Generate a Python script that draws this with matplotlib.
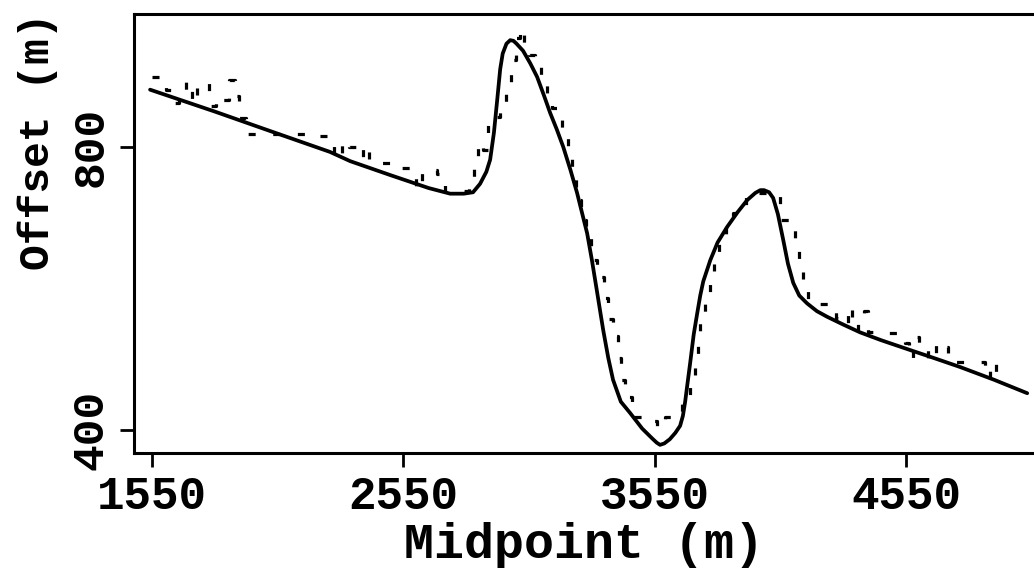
import matplotlib
matplotlib.use("Agg")
import matplotlib.pyplot as plt

# smooth model curve (midpoint m, offset m)
model_x = [1542, 1800, 2000, 2258, 2338, 2500, 2650, 2736, 2790, 2827, 2855, 2880,
           2895, 2910, 2923, 2935, 2945, 2960, 2975, 2988, 3000, 3026, 3055, 3082,
           3110, 3134, 3160, 3186, 3215, 3241, 3262, 3281, 3300, 3321, 3345, 3365,
           3384, 3415, 3452, 3500, 3540, 3558, 3571, 3588, 3610, 3632, 3651, 3662,
           3671, 3680, 3691, 3705, 3719, 3731, 3743, 3771, 3800, 3838, 3880, 3918,
           3950, 3970, 3985, 4005, 4021, 4040, 4061, 4080, 4101, 4125, 4156, 4195,
           4236, 4300, 4367, 4450, 4566, 4650, 4765, 4900, 5032]
model_y = [881, 850, 825, 793, 780, 760, 742, 734, 734, 736, 748, 765,
           782, 820, 866, 910, 932, 946, 951, 950, 946, 936, 918, 899,
           872, 848, 825, 800, 767, 735, 705, 678, 640, 594, 541, 502,
           471, 440, 424, 402, 388, 382, 379, 381, 387, 396, 406, 420,
           440, 465, 495, 535, 565, 590, 610, 640, 665, 687, 708, 725,
           735, 739, 739, 736, 728, 705, 669, 635, 608, 590, 579, 568,
           560, 549, 538, 527, 513, 503, 489, 471, 452]

# picked offsets (stepped, noisy)
pick_x = [1550, 1590, 1620, 1645, 1670, 1700, 1720, 1740, 1765, 1790, 1820, 1845,
          1870, 1890, 1905, 1940, 2000, 2060, 2120, 2180, 2230, 2260, 2290, 2320,
          2350, 2380, 2400, 2430, 2480, 2520, 2560, 2590, 2610, 2640, 2670, 2700,
          2730, 2770, 2800, 2825, 2840, 2855, 2875, 2895, 2920, 2945, 2970, 2990,
          3005, 3020, 3040, 3060, 3085, 3110, 3130, 3150, 3170, 3195, 3213, 3225,
          3245, 3265, 3289, 3305, 3337, 3356, 3368, 3400, 3408, 3420, 3444, 3472,
          3500, 3543, 3575, 3610, 3640, 3679, 3703, 3719, 3727, 3735, 3763, 3779,
          3791, 3822, 3842, 3880, 3902, 3926, 3960, 4000, 4030, 4070, 4101, 4117,
          4128, 4148, 4168, 4200, 4256, 4290, 4311, 4327, 4339, 4375, 4391, 4403,
          4450, 4494, 4540, 4554, 4566, 4586, 4618, 4658, 4681, 4697, 4733, 4780,
          4817, 4860, 4872, 4896, 4916]
pick_y = [899, 899, 880, 862, 878, 893, 862, 885, 890, 858, 870, 866,
          895, 872, 841, 818, 818, 818, 818, 818, 815, 808, 784, 808,
          800, 786, 803, 777, 777, 777, 770, 767, 741, 768, 767, 762,
          738, 738, 738, 748, 777, 807, 796, 842, 842, 862, 892, 923,
          954, 968, 939, 930, 920, 898, 866, 855, 842, 817, 789, 758,
          725, 697, 673, 640, 616, 587, 557, 533, 502, 471, 447, 418,
          418, 413, 404, 418, 418, 440, 464, 495, 524, 555, 579, 612,
          642, 666, 694, 707, 707, 735, 735, 735, 735, 697, 697, 669,
          638, 606, 578, 578, 578, 558, 550, 575, 541, 554, 568, 538,
          537, 537, 531, 523, 502, 531, 519, 499, 523, 517, 496, 496,
          496, 496, 473, 496, 471]

xticks = [1550, 2550, 3550, 4550]
yticks = [400, 800]

font = "Liberation Mono"

fig = plt.figure(figsize=(10.34, 5.75), dpi=100)
ax = fig.add_axes([0.1296, 0.2122, 0.8704, 0.7635])

ax.plot(model_x, model_y, color="black", lw=2.7, solid_capstyle="round",
        solid_joinstyle="round")
ax.step(pick_x, pick_y, where="mid", color="black", lw=2.3,
        linestyle=(0, (2.2, 5.5)))

ax.set_xlim(1478, 5059)
ax.set_ylim(367.5, 988)

ax.set_xticks(xticks)
ax.set_yticks(yticks)
ax.set_xticklabels([str(v) for v in xticks], fontfamily=font,
                   fontweight="bold", fontsize=33)
ax.set_yticklabels([str(v) for v in yticks], fontfamily=font,
                   fontweight="bold", fontsize=32, rotation=90, va="center")
ax.tick_params(axis="both", direction="out", length=10, width=2, pad=6)

ax.spines["right"].set_visible(False)
for s in ["left", "bottom", "top"]:
    ax.spines[s].set_linewidth(2.2)

ax.set_xlabel("Midpoint (m)", fontfamily=font, fontweight="bold",
              fontsize=36, labelpad=2)
ax.set_ylabel("Offset (m)", fontfamily=font, fontweight="bold",
              fontsize=31)
ax.yaxis.set_label_coords(-0.084, 0.71)

fig.savefig("out.png", dpi=100)
